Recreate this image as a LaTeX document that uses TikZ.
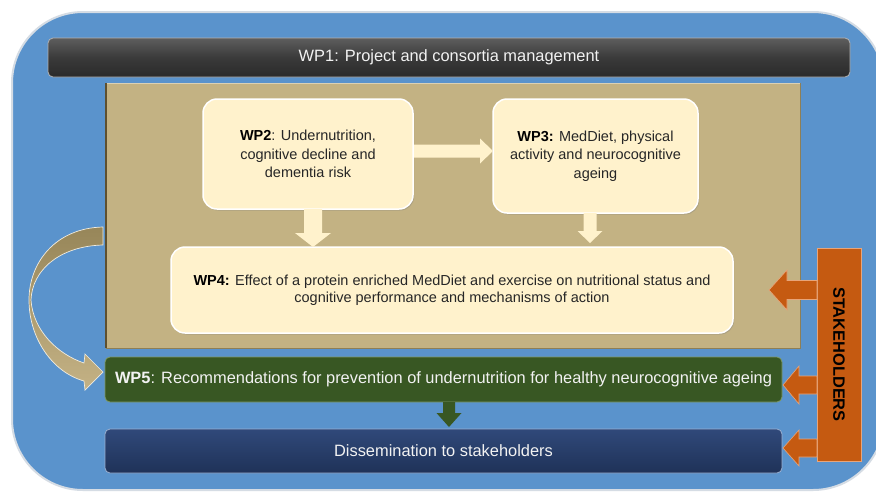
\documentclass[tikz,border=0pt]{standalone}
\usepackage{fontspec}
\setmainfont{Liberation Sans}
\usetikzlibrary{calc,shadows}
\definecolor{outerblue}{HTML}{5A93CC}
\definecolor{outeredge}{HTML}{D5DCE4}
\definecolor{tanfill}{HTML}{C3B283}
\definecolor{tanedge}{HTML}{8F7F55}
\definecolor{tandark}{HTML}{5E502F}
\definecolor{creamfill}{HTML}{FFF2CC}
\definecolor{greenfill}{HTML}{385723}
\definecolor{greenedge}{HTML}{7C9868}
\definecolor{navytop}{HTML}{30497A}
\definecolor{navybot}{HTML}{1F3258}
\definecolor{navyedge}{HTML}{9AAFCF}
\definecolor{orangefill}{HTML}{C55A11}
\definecolor{orangeedge}{HTML}{E8A57A}
\definecolor{graytop}{HTML}{5E5E5E}
\definecolor{graymid}{HTML}{3A3A3A}
\definecolor{graybot}{HTML}{2A2A2A}
\definecolor{textdark}{HTML}{262626}
\definecolor{curvetop}{HTML}{978659}
\definecolor{curvebot}{HTML}{C4B285}
\newcommand\blkR[6]{\path[#1] ($(#2)+(0,-#4)$) -- ($(#3)+(-#6,-#4)$) -- ($(#3)+(-#6,-#5)$) -- (#3) -- ($(#3)+(-#6,#5)$) -- ($(#3)+(-#6,#4)$) -- ($(#2)+(0,#4)$) -- cycle;}
\newcommand\blkL[6]{\path[#1] ($(#2)+(0,-#4)$) -- ($(#3)+(#6,-#4)$) -- ($(#3)+(#6,-#5)$) -- (#3) -- ($(#3)+(#6,#5)$) -- ($(#3)+(#6,#4)$) -- ($(#2)+(0,#4)$) -- cycle;}
\newcommand\blkD[6]{\path[#1] ($(#2)+(-#4,0)$) -- ($(#3)+(-#4,-#6)$) -- ($(#3)+(-#5,-#6)$) -- (#3) -- ($(#3)+(#5,-#6)$) -- ($(#3)+(#4,-#6)$) -- ($(#2)+(#4,0)$) -- cycle;}
\begin{document}
\begin{tikzpicture}[x=1pt,y=-1pt,
  every node/.style={inner sep=0pt, outer sep=0pt},
  outerbox/.style={fill=outerblue, draw=outeredge, line width=2pt, rounded corners=71pt},
  barbox/.style={rounded corners=5pt, line width=0.8pt, text=white!95!black,
    font=\fontsize{16.4}{19}\selectfont},
  wpbox/.style={fill=creamfill, draw=white, line width=1.5pt, rounded corners=14pt,
    text=textdark, align=center, font=\fontsize{14.5}{18.5}\selectfont,
    drop shadow={shadow xshift=1.2pt, shadow yshift=-1.5pt, opacity=0.35}},
  creamarrow/.style={fill=creamfill},
  orangearrow/.style={fill=orangefill, draw=orangeedge, line width=0.6pt},
  greenarrow/.style={fill=greenfill},
]
\useasboundingbox (0,0) rectangle (876,493);
\fill[white] (0,0) rectangle (876,493);
\clip (0,0) rectangle (876,493);

% outer frame
\node[outerbox, minimum width=872pt, minimum height=478pt] (outer) at (448,251) {};

% WP1 bar
\node[barbox, top color=graytop, bottom color=graybot, middle color=graymid,
  draw=gray!60, minimum width=802pt, minimum height=39pt] (wp1) at (449,57.5)
  {WP1: Project and consortia management};

% curved arrow on the left
\shade[top color=curvetop, bottom color=curvebot, draw=white!75!tanfill, line width=0.7pt]
  (103,227) .. controls (56,228) and (29,262) .. (29,300)
  .. controls (29,338) and (52,372) .. (84,381)
  -- (85,390) -- (103,372) -- (85,354) -- (84,363)
  .. controls (57,354) and (33,330) .. (31,300)
  .. controls (32,270) and (60,246) .. (103,245) -- cycle;

% tan region
\node[fill=tanfill, draw=tanedge, line width=0.8pt, minimum width=694pt, minimum height=265pt] (tan) at (453,215.5) {};
\draw[tandark, line width=2pt] (tan.north west) -- (tan.south west);
\draw[white!40!tanfill, line width=1pt] ($(tan.north west)+(1,0.5)$) -- ($(tan.north east)+(0,0.5)$);

% WP boxes
\node[wpbox, minimum width=210pt, minimum height=110pt] (wp2) at (308,154)
  {\textbf{\color{black}WP2}: Undernutrition,\\cognitive decline and\\dementia risk};
\node[wpbox, minimum width=205pt, minimum height=114pt] (wp3) at (595.5,156)
  {\textbf{\color{black}WP3:} MedDiet, physical\\activity and neurocognitive\\ageing};
\node[wpbox, minimum width=562pt, minimum height=86pt, font=\fontsize{14.5}{17.5}\selectfont] (wp4) at (452,290)
  {\textbf{\color{black}WP4:} Effect of a protein enriched MedDiet and exercise on nutritional status and\\cognitive performance and mechanisms of action};

% cream arrows
\coordinate (h1) at ($(wp2.east)+(1,-3)$);
\coordinate (h2) at (wp3.west |- h1);
\blkR{creamarrow}{h1}{h2}{6.5}{12.5}{13}
\coordinate (d2a) at ($(wp2.south)+(5,0)$);
\coordinate (d2b) at (d2a |- wp4.north);
\blkD{creamarrow}{d2a}{d2b}{9}{18}{14}
\coordinate (d3a) at ($(wp3.south)+(-5.5,0)$);
\coordinate (d3b) at ($(d3a |- wp4.north)+(0,-4)$);
\blkD{creamarrow}{d3a}{d3b}{6.5}{12.5}{12}

% WP5 and dissemination bars
\node[barbox, fill=greenfill, draw=greenedge, minimum width=677pt, minimum height=45pt] (wp5) at (443.5,379.5)
  {\textbf{WP5}: Recommendations for prevention of undernutrition for healthy neurocognitive ageing};
\node[barbox, top color=navytop, bottom color=navybot, draw=navyedge, minimum width=677pt, minimum height=44pt] (diss) at (443.5,451)
  {Dissemination to stakeholders};

% green arrow
\coordinate (g1) at ($(wp5.south)+(5.5,0)$);
\coordinate (g2) at ($(g1 |- diss.north)+(0,-2)$);
\blkD{greenarrow}{g1}{g2}{6}{12.5}{14}

% stakeholders bar
\node[fill=orangefill, draw=orangeedge, line width=0.6pt, rotate=-90, minimum width=213pt, minimum height=44pt,
  font=\fontsize{16.4}{19}\selectfont\bfseries, text=black] (stake) at (839,354.5) {STAKEHOLDERS};

% orange arrows
\coordinate (o1) at (769,290);
\coordinate (o1s) at (stake.south |- o1);
\blkL{orangearrow}{o1s}{o1}{9.5}{20}{18}
\coordinate (o2) at ($(wp5.east)+(1,5.5)$);
\coordinate (o2s) at (stake.south |- o2);
\blkL{orangearrow}{o2s}{o2}{9}{19}{16}
\coordinate (o3) at ($(diss.east)+(1,-3)$);
\coordinate (o3s) at (stake.south |- o3);
\blkL{orangearrow}{o3s}{o3}{9}{18}{16}
\end{tikzpicture}
\end{document}
